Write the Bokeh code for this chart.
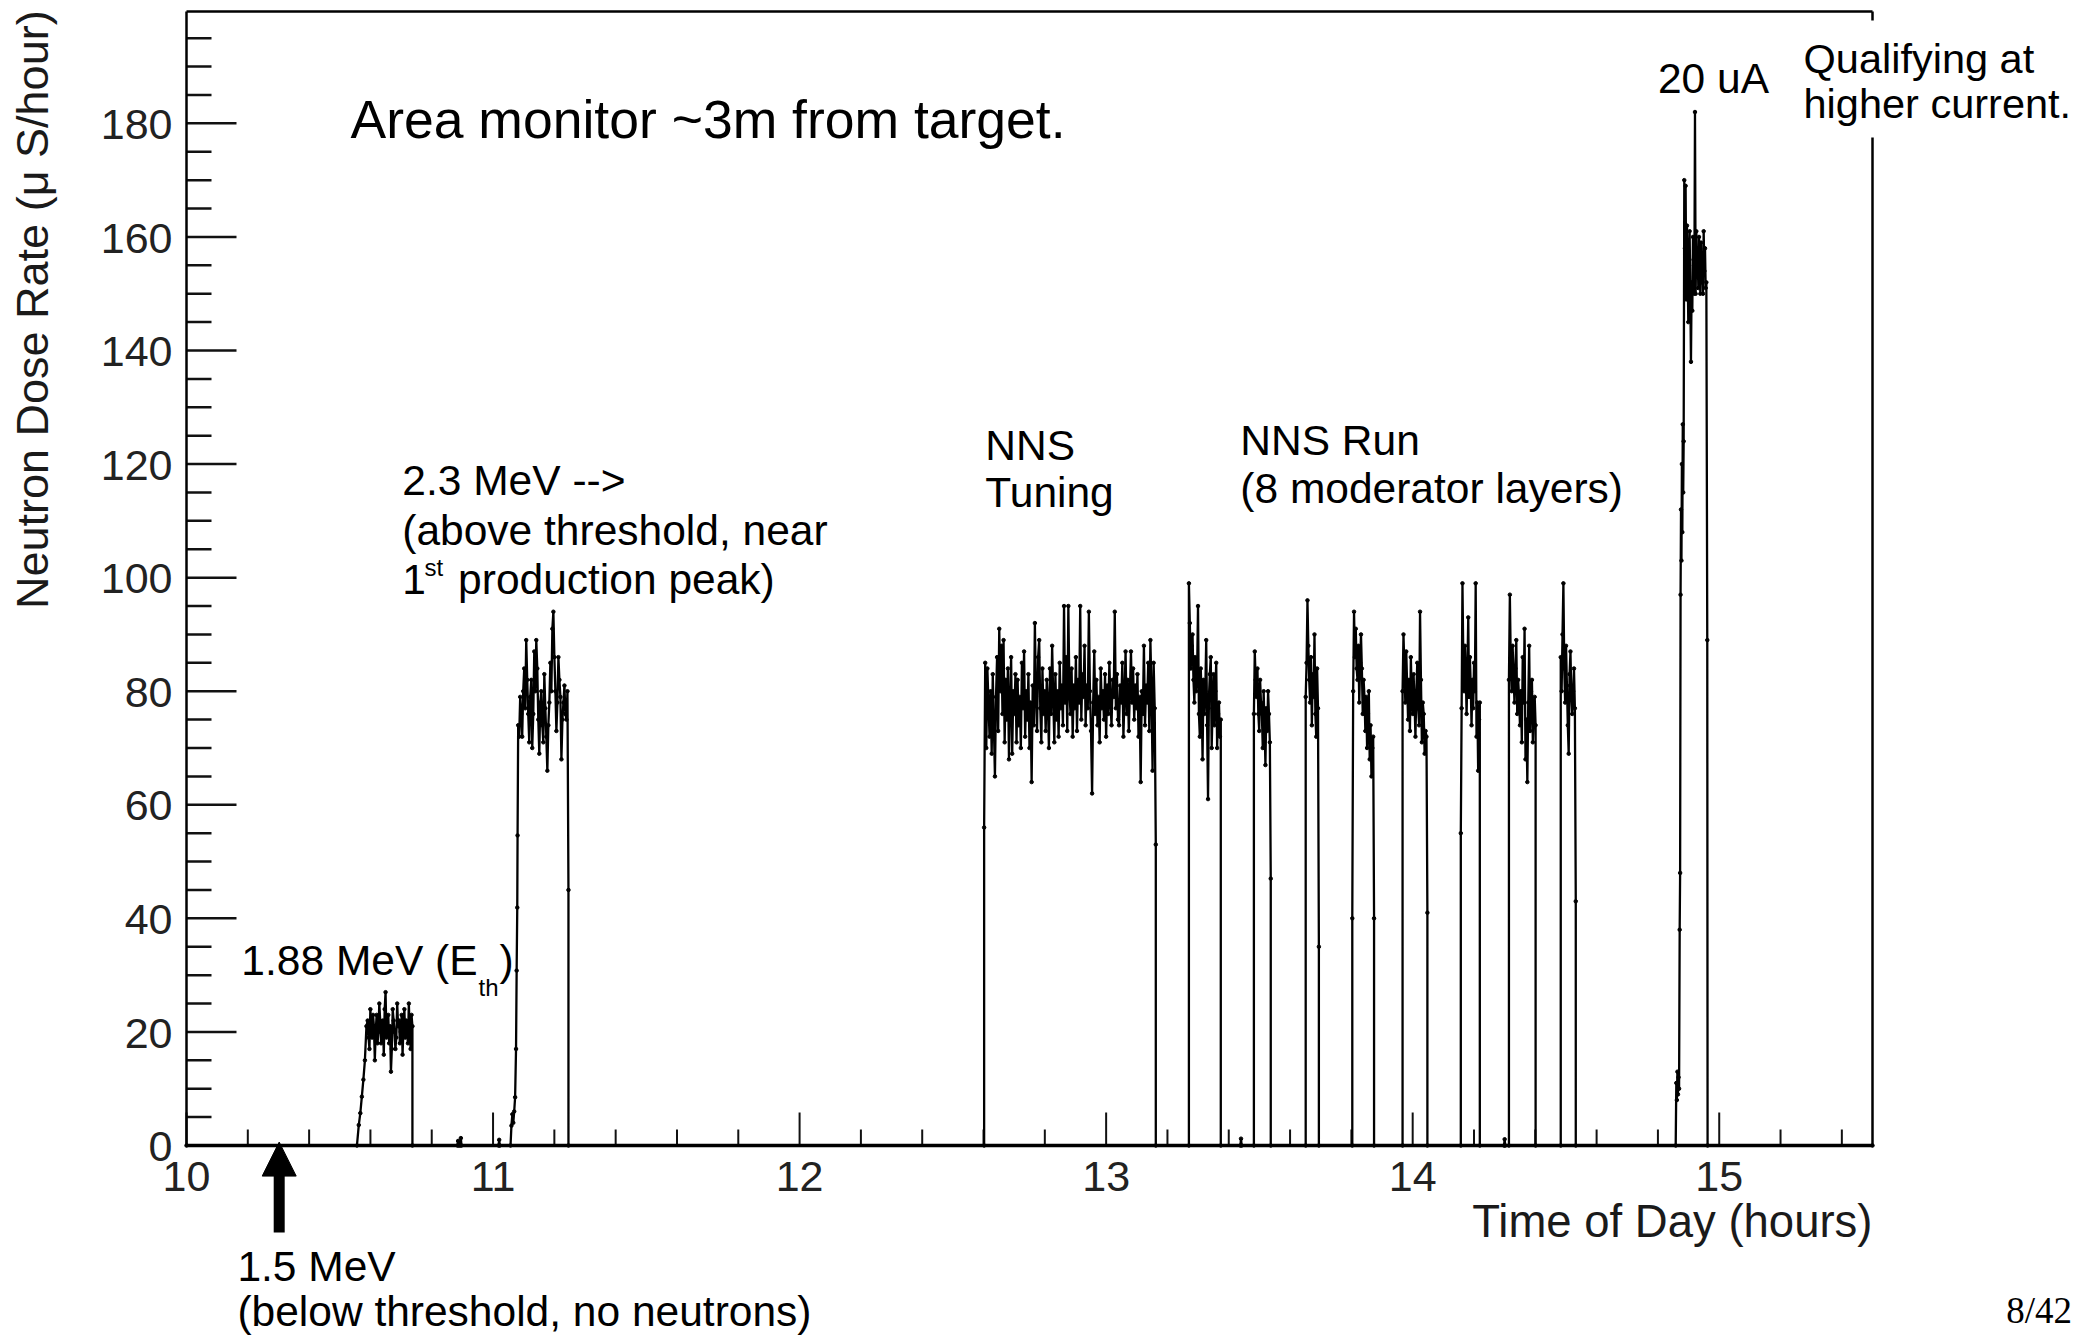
import numpy as np
from bokeh.plotting import figure
from bokeh.models import Range1d, Label, Arrow, NormalHead
from bokeh.core.properties import value
from bokeh.embed import file_html
from bokeh.resources import INLINE

# ---------------- readings: time of day (h) vs. neutron dose rate (uSv/h) ----------------

# 1.88 MeV (threshold): slow ramp, then plateau around 20
eth188_ramp_t = [10.556, 10.562, 10.567, 10.572, 10.577, 10.582, 10.587]
eth188_ramp_v = [0.0, 3.6, 5.7, 8.6, 11.6, 15.0, 21.0]
eth188_span = (10.591, 10.737)
eth188_values = [22, 19, 17, 24, 21, 19, 23, 21, 15, 20, 23, 18, 20, 25, 22, 18, 21, 22,
                 16, 24, 27, 19, 21, 23, 18, 21, 13, 17, 24, 22, 20, 17, 19, 25, 21, 22,
                 18, 20, 23, 16, 21, 24, 19, 22, 20, 18, 25, 20, 17, 23, 21]

# isolated low counts while the beam is off
blip_t = [10.886, 10.895, 11.020, 13.440, 14.300]
blip_v = [0.8, 1.3, 1.0, 1.2, 1.1]

# 2.3 MeV
mev23_ramp_t = [11.057, 11.060, 11.063, 11.066, 11.069, 11.072, 11.075, 11.077, 11.079, 11.080]
mev23_ramp_v = [0.0, 3.5, 5.5, 4.0, 6.0, 8.5, 17.0, 30.8, 41.9, 54.6]
mev23_span = (11.082, 11.246)
mev23_values = [74, 72, 79, 76, 72, 80, 84, 77, 89, 82, 76, 71, 79, 82, 70, 76, 87, 80,
                89, 84, 75, 69, 78, 80, 74, 71, 83, 77, 72, 66, 74, 78, 85, 80, 91, 94,
                86, 80, 73, 78, 86, 82, 79, 68, 75, 78, 81, 76, 75, 80, 45]

# NNS tuning
tuning_span = (12.602, 13.162)
tuning_values = [56, 85, 70, 84, 78, 72, 80, 69, 83, 74, 65, 79, 86, 73, 91, 80, 88, 76, 89, 71,
                 82, 75, 84, 68, 78, 86, 69, 80, 76, 83, 71, 82, 74, 79, 70, 85, 77, 87, 72, 80,
                 75, 83, 70, 78, 64, 81, 74, 92, 79, 73, 86, 89, 77, 71, 84, 76, 80, 73, 82, 78,
                 70, 84, 76, 88, 79, 71, 83, 75, 80, 72, 85, 77, 81, 74, 95, 78, 86, 73, 95, 80,
                 76, 84, 72, 81, 77, 86, 73, 82, 78, 95, 75, 83, 79, 88, 74, 81, 77, 94, 80, 73,
                 62, 78, 87, 76, 82, 74, 79, 71, 84, 77, 80, 75, 83, 72, 81, 76, 85, 78, 74, 82,
                 79, 94, 77, 83, 75, 74, 81, 78, 85, 72, 79, 87, 76, 82, 73, 80, 87, 78, 84, 75,
                 81, 77, 83, 72, 79, 64, 80, 76, 88, 74, 81, 78, 85, 73, 89, 80, 66, 85, 77, 53]

# NNS run, one burst per moderator configuration
run_spans = [(13.270, 13.374), (13.482, 13.537), (13.651, 13.694), (13.803, 13.874),
             (13.967, 14.048), (14.157, 14.219), (14.314, 14.401), (14.483, 14.532)]
run_1 = [99, 92, 84, 88, 90, 82, 78, 86, 80, 83, 95, 76, 72, 84, 79, 68, 82, 76, 80, 89,
         74, 61, 79, 83, 86, 70, 77, 83, 74, 80, 85, 70, 76, 78, 72, 75]
run_2 = [76, 87, 82, 79, 84, 76, 73, 82, 78, 76, 70, 80, 74, 67, 77, 73, 80, 76, 71, 47]
run_3 = [79, 85, 96, 88, 82, 78, 86, 74, 83, 79, 90, 76, 72, 84, 77, 35]
run_4 = [40, 80, 94, 86, 91, 84, 82, 88, 78, 85, 90, 84, 76, 82, 79, 73, 79, 70, 76, 80,
         68, 74, 65, 70, 72, 40]
run_5 = [80, 90, 84, 78, 87, 81, 75, 82, 73, 86, 79, 76, 83, 78, 72, 80, 85, 77, 74, 94,
         82, 71, 78, 76, 69, 73, 72, 41]
run_6 = [55, 77, 99, 86, 80, 88, 83, 76, 84, 93, 79, 86, 81, 74, 82, 77, 85, 80, 99, 72,
         78, 66, 75, 78]
run_7 = [82, 97, 85, 80, 88, 83, 78, 84, 89, 76, 82, 79, 74, 80, 71, 86, 78, 91, 68, 75,
         64, 78, 88, 73, 80, 82, 71, 76, 79, 74]
run_8 = [86, 80, 90, 99, 84, 78, 88, 81, 74, 69, 83, 87, 79, 76, 80, 84, 77, 43]
run_values = [run_1, run_2, run_3, run_4, run_5, run_6, run_7, run_8]

# 20 uA qualification
ua20_low_span = (14.860, 14.869)
ua20_low = [11, 8, 13, 9, 12, 10]
ua20_ramp_span = (14.871, 14.884)
ua20_ramp = [38, 48, 97, 112, 103, 120, 108, 127, 115, 124]
ua20_high_span = (14.886, 14.958)
ua20_high = [170, 158, 169, 149, 162, 155, 145, 155, 161, 150, 138, 152, 147, 160, 156, 150,
             182, 150, 161, 153, 158, 151, 160, 155, 150, 159, 152, 157, 150, 161, 154, 158,
             151, 152]
ua20_tail_t = [14.961]
ua20_tail_v = [89]

# axis scales and ticks
X_LO, X_HI = 10.0, 15.5
Y_LO, Y_HI = 0.0, 199.7
x_major = [10, 11, 12, 13, 14, 15]
y_major = [0, 20, 40, 60, 80, 100, 120, 140, 160, 180]
x_minor_step = 0.2
y_minor_step = 5.0

# ---------------- assemble the time series ----------------
pts = []


def add(ts, vs):
    pts.extend(zip(list(ts), list(vs)))


def burst(span, vals, lead=True, trail=True):
    t = np.linspace(span[0], span[1], len(vals))
    if lead:
        add([span[0]], [0.0])
    add(t, vals)
    if trail:
        add([span[1]], [0.0])


add([X_LO], [0.0])
add(eth188_ramp_t, eth188_ramp_v)
burst(eth188_span, eth188_values, lead=False)
for bt, bv in zip(blip_t, blip_v):
    add([bt - 0.002, bt, bt + 0.002], [0.0, bv, 0.0])
add(mev23_ramp_t, mev23_ramp_v)
burst(mev23_span, mev23_values, lead=False)
burst(tuning_span, tuning_values)
for span, vals in zip(run_spans, run_values):
    burst(span, vals)
add([14.858], [0.0])
burst(ua20_low_span, ua20_low, lead=False, trail=False)
burst(ua20_ramp_span, ua20_ramp, lead=False, trail=False)
burst(ua20_high_span, ua20_high, lead=False, trail=False)
add(ua20_tail_t, ua20_tail_v)
add([14.962], [0.0])
add([X_HI], [0.0])

pts.sort(key=lambda q: q[0])
time_h = [q[0] for q in pts]
dose = [q[1] for q in pts]

# ---------------- canvas: the plot box sits inside a white page ----------------
W, H = 2079, 1337
M_LEFT, M_RIGHT, M_TOP, M_BOTTOM = 186, 207, 11, 192
px_h = (W - M_LEFT - M_RIGHT) / (X_HI - X_LO)     # pixels per hour
px_u = (H - M_TOP - M_BOTTOM) / (Y_HI - Y_LO)     # pixels per uSv/h

p = figure(width=W, height=H, output_backend="svg", toolbar_location=None,
           x_range=Range1d(X_LO - M_LEFT / px_h, X_HI + M_RIGHT / px_h),
           y_range=Range1d(Y_LO - M_BOTTOM / px_u, Y_HI + M_TOP / px_u),
           x_axis_type=None, y_axis_type=None,
           min_border=0, min_border_left=0, min_border_right=0,
           min_border_top=0, min_border_bottom=0)
p.xgrid.visible = False
p.ygrid.visible = False
p.outline_line_color = None
p.background_fill_color = "white"
p.border_fill_color = "white"

INK = "#111111"
SANS = "Liberation Sans"

# tick marks point into the box (left and bottom sides only)
y_minor = [v for v in np.arange(Y_LO, Y_HI, y_minor_step) if v not in y_major]
x_minor = [t for t in np.round(np.arange(X_LO, X_HI, x_minor_step), 3) if t not in x_major]
p.segment(x0=[X_LO] * len(y_major), y0=y_major, x1=[X_LO + 50 / px_h] * len(y_major), y1=y_major,
          line_color=INK, line_width=2.5)
p.segment(x0=[X_LO] * len(y_minor), y0=y_minor, x1=[X_LO + 25 / px_h] * len(y_minor), y1=y_minor,
          line_color=INK, line_width=2.5)
p.segment(x0=x_major, y0=[Y_LO] * len(x_major), x1=x_major, y1=[Y_LO + 33 / px_u] * len(x_major),
          line_color=INK, line_width=2)
p.segment(x0=x_minor, y0=[Y_LO] * len(x_minor), x1=x_minor, y1=[Y_LO + 16 / px_u] * len(x_minor),
          line_color=INK, line_width=2)

# the measured dose rate
p.line(time_h, dose, line_color="black", line_width=2.3)
p.scatter(time_h, dose, size=3.5, color="black")

# plot box
p.segment(x0=[X_LO, X_LO, X_HI], y0=[Y_LO, Y_HI, Y_LO], x1=[X_LO, X_HI, X_HI], y1=[Y_HI, Y_HI, Y_HI],
          line_color="black", line_width=2.5)
p.segment(x0=[X_LO], y0=[Y_LO], x1=[X_HI], y1=[Y_LO], line_color="black", line_width=3.5)

# white backing behind the note that straddles the right edge of the box
QUAL_X = 15.275
p.quad(left=[QUAL_X - 10 / px_h], right=[X_HI + M_RIGHT / px_h], top=[Y_HI - 9 / px_u],
       bottom=[Y_HI - 126 / px_u], fill_color="white", line_color=None)

# tick labels
p.text(x=[X_LO - 14 / px_h] * len(y_major), y=[v - 0.2 for v in y_major], text=[str(v) for v in y_major],
       text_font=value(SANS), text_font_size=value("43px"), text_color="#222222",
       text_align="right", text_baseline="alphabetic")
p.text(x=x_major, y=[-5.5] * len(x_major), text=[str(t) for t in x_major],
       text_font=value(SANS), text_font_size=value("43px"), text_color="#222222",
       text_align="center", text_baseline="alphabetic")


def note(x, y, text, size="42.5px", font=SANS, color="black", **kw):
    lab = Label(x=x, y=y, text=text, text_font=font, text_font_size=size,
                text_color=color, text_baseline="alphabetic", **kw)
    p.add_layout(lab)
    return lab


# axis titles
note(X_HI, -13.4, "Time of Day (hours)", size="45.5px", text_align="right", color="#1a1a1a")
note(9.4977, 199.9, "Neutron Dose Rate (\u03bc S/hour)", size="45px", text_align="right",
     angle=np.pi / 2, color="#1a1a1a")

# annotations
note(10.535, 180.6, "Area monitor ~3m from target.", size="53.5px")
note(10.704, 117.1, "2.3 MeV -->")
note(10.704, 108.3, "(above threshold, near")
note(10.704, 99.7, "1")
note(10.776, 101.8, "st", size="24px")
note(10.886, 99.7, "production peak)")
note(10.179, 32.6, "1.88 MeV (E")
note(10.9526, 27.8, "th", size="24px")
note(11.021, 32.6, ")")
note(12.606, 123.3, "NNS")
note(12.606, 115.0, "Tuning")
note(13.4377, 124.2, "NNS Run")
note(13.4377, 115.7, "(8 moderator layers)")
note(14.800, 187.9, "20 uA")
note(QUAL_X, 191.4, "Qualifying at", size="41.5px")
note(QUAL_X, 183.5, "higher current.", size="41.5px")
note(10.166, -21.3, "1.5 MeV")
note(10.166, -29.2, "(below threshold, no neutrons)")
note(15.9365, -29.1, "8/42", size="37px", font="Liberation Serif")

p.add_layout(Arrow(x_start=10.3024, y_start=-15.3, x_end=10.3024, y_end=0.6,
                   line_width=11, line_color="black",
                   end=NormalHead(size=34, fill_color="black", line_color="black", line_width=1)))

open("out.html", "w").write(file_html(p, INLINE))
